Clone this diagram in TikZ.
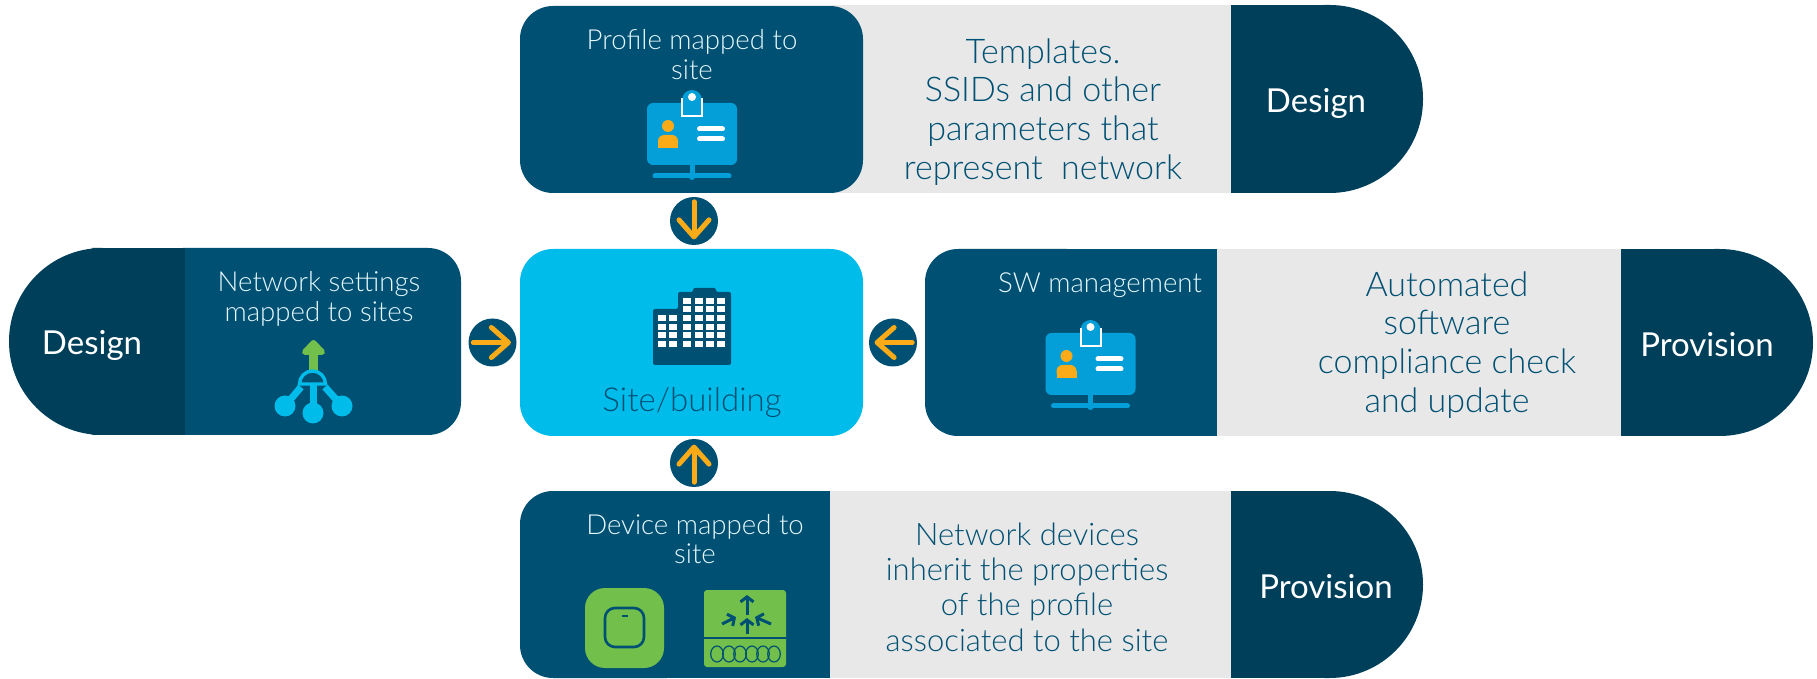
\documentclass[tikz,border=0pt]{standalone}
\usepackage{fontspec}
\setmainfont{Lato}[UprightFont=* Light]
\newfontfamily\capfont{Lato}
\usetikzlibrary{arrows.meta}
\definecolor{capblue}{HTML}{003F5A}
\definecolor{panelblue}{HTML}{005073}
\definecolor{sitecyan}{HTML}{00BCEB}
\definecolor{iconblue}{HTML}{049FD9}
\definecolor{greypanel}{HTML}{E8E8E8}
\definecolor{accentorange}{HTML}{FBAB18}
\definecolor{devicegreen}{HTML}{72BF4B}
\tikzset{
        panellabel/.style={text=white!90!sitecyan, align=center, font=\fontsize{13.8}{15}\selectfont, inner sep=0pt},
        greylabel/.style={text=panelblue, align=center, font=\fontsize{17}{19.4}\selectfont, inner sep=0pt},
        caplabel/.style={text=white, font=\capfont\fontsize{16.5}{19}\selectfont, inner sep=0pt},
        flowdot/.style={circle, fill=panelblue, minimum size=24pt, inner sep=0pt},
        flowarrow/.style={draw=accentorange, line width=2.5pt, line cap=round, shorten <=2.6pt, shorten >=3pt, -{Straight Barb[length=8.5pt,width=15pt,round]}},
        devicearrow/.style={draw=panelblue, line width=1.5pt, -{Straight Barb[length=2.5pt,width=6.5pt]}}
}
\newcommand{\badgeicon}[2]{
        \begin{scope}[shift={(#1,#2)}]
                \fill[iconblue, rounded corners=3pt] (-45,0) rectangle (45,62);
                \fill[iconblue] (-10,-3) -- (-10,13) -- (10,13) -- (10,-3) arc (0:180:10 and -10) -- cycle;
                \draw[white, line width=1pt] (-10,-5) -- (-10,13) -- (10,13) -- (10,-5);
                \fill[white] (0,-6) circle (4);
                \fill[accentorange] (-24,23) circle (6);
                \fill[accentorange, rounded corners=3pt] (-34,45) rectangle (-14,32);
                \fill[accentorange] (-34,45) rectangle (-14,38);
                \draw[white, line width=2.5pt, line cap=round] (7.5,26) -- (30.5,26);
                \draw[white, line width=2.5pt, line cap=round] (7.5,36) -- (30.5,36);
                \draw[iconblue, line width=2.5pt] (0,62) -- (0,73);
                \draw[iconblue, line width=2.5pt, line cap=round] (-37,73) -- (37,73);
                \fill[iconblue] (0,74) circle (3);
        \end{scope}
}

\begin{document}
\begin{tikzpicture}[x=0.5pt,y=-0.5pt]
        \useasboundingbox (0,0) rectangle (1817,679);

        % profile row
        \fill[greypanel] (830,5) rectangle (1240,193);
        \fill[capblue, rounded corners=46.7pt] (1231,5) rectangle (1423,193);
        \fill[capblue] (1231,5) rectangle (1320,193);
        \fill[panelblue, rounded corners=16.5pt] (520,6) rectangle (863,193);
        \node[panellabel] (profiletext) at (692,55) {Profile mapped to\\site};
        \node[greylabel] (templatestext) at (1043,112) {Templates.\\SSIDs and other\\parameters that\\represent\ \ network};
        \node[caplabel] (designtop) at (1316,103) {Design};
        \badgeicon{692}{103}

        % network settings row
        \fill[panelblue, rounded corners=16.5pt] (150,248) rectangle (461,435);
        \fill[capblue, rounded corners=46.7pt] (9,248) rectangle (185,435);
        \fill[capblue] (100,248) rectangle (185,435);
        \node[panellabel] (settingstext) at (319,299) {Network settings\\mapped to sites};
        \node[caplabel] (designleft) at (92,345) {Design};
        \fill[devicegreen] (309,352) rectangle (318,373);
        \draw[devicegreen, fill=devicegreen, line width=3pt, line join=round] (313.5,343) -- (305,352) -- (322,352) -- cycle;
        \draw[sitecyan, line width=1.7pt] (299.5,384) arc (180:360:13) -- cycle;
        \draw[sitecyan, line width=3.5pt] (301,387) -- (285,406);
        \draw[sitecyan, line width=3.5pt] (313,385) -- (313,413);
        \draw[sitecyan, line width=3.5pt] (325,387) -- (342,406);
        \fill[sitecyan] (285,406) circle (10.5);
        \fill[sitecyan] (313,413) circle (10.5);
        \fill[sitecyan] (342,406) circle (10.5);

        % site
        \node[fill=sitecyan, rounded corners=16.5pt, minimum width=171.5pt, minimum height=93.5pt, inner sep=0pt] (site) at (691.5,342.5) {};
        \node[text=panelblue, font=\fontsize{16.5}{19}\selectfont, inner sep=0pt] (sitetext) at (692,403) {Site/building};
        \fill[panelblue, rounded corners=1pt] (653,309) -- (678,309) -- (678,292) -- (693,292) -- (693,288) -- (716,288) -- (716,292) -- (731,292) -- (731,365) -- (653,365) -- cycle;
        \foreach \wx in {687,699,710,721}
                \foreach \wy in {301,309,318,327,335,344}
                        \fill[white] (\wx-4,\wy-3) rectangle (\wx+4,\wy+3);
        \foreach \wx in {662,673}
                \foreach \wy in {318,327,335,344}
                        \fill[white] (\wx-4,\wy-3) rectangle (\wx+4,\wy+3);

        % software row
        \fill[greypanel] (1217,249) rectangle (1630,436);
        \fill[capblue, rounded corners=46.7pt] (1621,249) rectangle (1813,436);
        \fill[capblue] (1621,249) rectangle (1710,436);
        \fill[panelblue, rounded corners=16.5pt] (925,249) rectangle (1100,436);
        \fill[panelblue] (1050,249) rectangle (1217,436);
        \node[panellabel] (swtext) at (1100,285) {SW management};
        \node[greylabel] (softwaretext) at (1447,345) {Automated\\software\\compliance check\\and update};
        \node[caplabel] (provisionright) at (1707,345) {Provision};
        \badgeicon{1090.5}{333}

        % device row
        \fill[greypanel] (830,491) rectangle (1240,678);
        \fill[capblue, rounded corners=46.7pt] (1231,491) rectangle (1423,678);
        \fill[capblue] (1231,491) rectangle (1320,678);
        \fill[panelblue, rounded corners=16.5pt] (520,491) rectangle (700,678);
        \fill[panelblue] (620,491) rectangle (830,678);
        \node[panellabel, font=\fontsize{13.8}{14.4}\selectfont] (devicetext) at (695,539) {Device mapped to\\site};
        \node[greylabel, font=\fontsize{15.5}{17.7}\selectfont] (inherittext) at (1027,587) {Network devices\\inherit the properties\\of the profile\\associated to the site};
        \node[caplabel] (provisionbottom) at (1326,587) {Provision};
        \fill[devicegreen, rounded corners=10pt] (585,588) rectangle (664,668);
        \draw[panelblue, line width=1.3pt, rounded corners=5pt] (605,608) rectangle (644,647);
        \draw[panelblue, line width=1.2pt] (622,616) -- (628,616);
        \fill[devicegreen, rounded corners=1.5pt] (704,590) rectangle (786,667);
        \draw[panelblue, line width=1.1pt] (704,638) -- (786,638);
        \coordinate (upstart) at (747,615);
        \coordinate (uptip) at (747,595);
        \coordinate (midstart) at (747,634);
        \coordinate (midtip) at (747,618);
        \coordinate (leftstart) at (722,624);
        \coordinate (lefttip) at (736,617);
        \coordinate (rightstart) at (771,624);
        \coordinate (righttip) at (755,617);
        \draw[devicearrow] (upstart) -- (uptip);
        \draw[devicearrow] (midstart) -- (midtip);
        \draw[devicearrow] (leftstart) -- (lefttip);
        \draw[devicearrow] (rightstart) -- (righttip);
        \foreach \cx in {717,729,740,752,763,774}
                \draw[panelblue, line width=0.6pt] (\cx,654) ellipse (6.3 and 8);

        % arrows into site
        \node[flowdot] (dottop) at (694,221) {};
        \node[flowdot] (dotleft) at (492.5,342.5) {};
        \node[flowdot] (dotright) at (893,342.5) {};
        \node[flowdot] (dotbottom) at (694,463) {};
        \draw[flowarrow] (dottop.north) -- (dottop.south);
        \draw[flowarrow] (dotleft.west) -- (dotleft.east);
        \draw[flowarrow] (dotright.east) -- (dotright.west);
        \draw[flowarrow] (dotbottom.south) -- (dotbottom.north);
\end{tikzpicture}
\end{document}
